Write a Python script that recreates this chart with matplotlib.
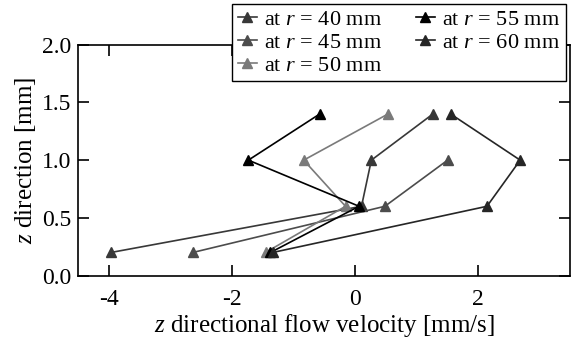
import matplotlib
matplotlib.use('Agg')
import matplotlib.pyplot as plt

plt.rcParams['font.family'] = ['Liberation Serif', 'DejaVu Serif']
plt.rcParams['mathtext.fontset'] = 'custom'
plt.rcParams['mathtext.rm'] = 'Liberation Serif'
plt.rcParams['mathtext.it'] = 'Liberation Serif:italic'
plt.rcParams['axes.unicode_minus'] = False

# z positions [mm]
z_full = [0.2, 0.6, 1.0, 1.4]
z_short = [0.2, 0.6, 1.0]

# z directional flow velocity [mm/s] for each radius
v_r40 = [-3.96, 0.11, 0.27, 1.27]
v_r45 = [-2.63, 0.49, 1.51]
v_r50 = [-1.45, -0.15, -0.83, 0.54]
v_r55 = [-1.37, 0.07, -1.73, -0.57]
v_r60 = [-1.33, 2.15, 2.69, 1.56]

labels = ['at $r$ = 40 mm', 'at $r$ = 45 mm', 'at $r$ = 50 mm',
          'at $r$ = 55 mm', 'at $r$ = 60 mm']
colors = ['#383838', '#4c4c4c', '#7a7a7a', '#000000', '#262626']

xticks = [-4, -2, 0, 2]
yticks = [0.0, 0.5, 1.0, 1.5, 2.0]


def main():
    fig = plt.figure(figsize=(5.74, 3.42), dpi=100)
    ax = fig.add_axes([78 / 574, 1 - 275.5 / 342, 492 / 574, 230.7 / 342])

    series = [(v_r40, z_full), (v_r45, z_short), (v_r50, z_full),
              (v_r55, z_full), (v_r60, z_full)]
    for (v, z), lab, c in zip(series, labels, colors):
        ax.plot(v, z, '-^', color=c, lw=1.2, ms=7.5, label=lab)

    ax.set_xlim(-4.5, 3.5)
    ax.set_ylim(0, 2.0)
    ax.set_xticks(xticks)
    ax.set_xticklabels([str(t) for t in xticks])
    ax.set_yticks(yticks)
    ax.set_yticklabels(['%.1f' % t for t in yticks])
    ax.tick_params(direction='in', length=8, width=1.2, top=True, right=True,
                   labelsize=17, pad=5)
    ax.tick_params(axis='x', pad=10)
    for s in ax.spines.values():
        s.set_linewidth(1.2)

    ax.set_xlabel('$z$ directional flow velocity [mm/s]', fontsize=18, labelpad=1)
    ax.set_ylabel('$z$ direction [mm]', fontsize=18, labelpad=3)

    leg = ax.legend(loc='upper right', ncol=2, fontsize=16,
                    bbox_to_anchor=(566 / 574, 1 - 4 / 342),
                    bbox_transform=fig.transFigure, borderaxespad=0,
                    fancybox=False, framealpha=1, edgecolor='black',
                    handlelength=0.85, handletextpad=0.35, columnspacing=1.5,
                    labelspacing=0.1, borderpad=0.25)
    leg.get_frame().set_linewidth(1.0)

    fig.savefig('out.png', dpi=100)


if __name__ == '__main__':
    main()
